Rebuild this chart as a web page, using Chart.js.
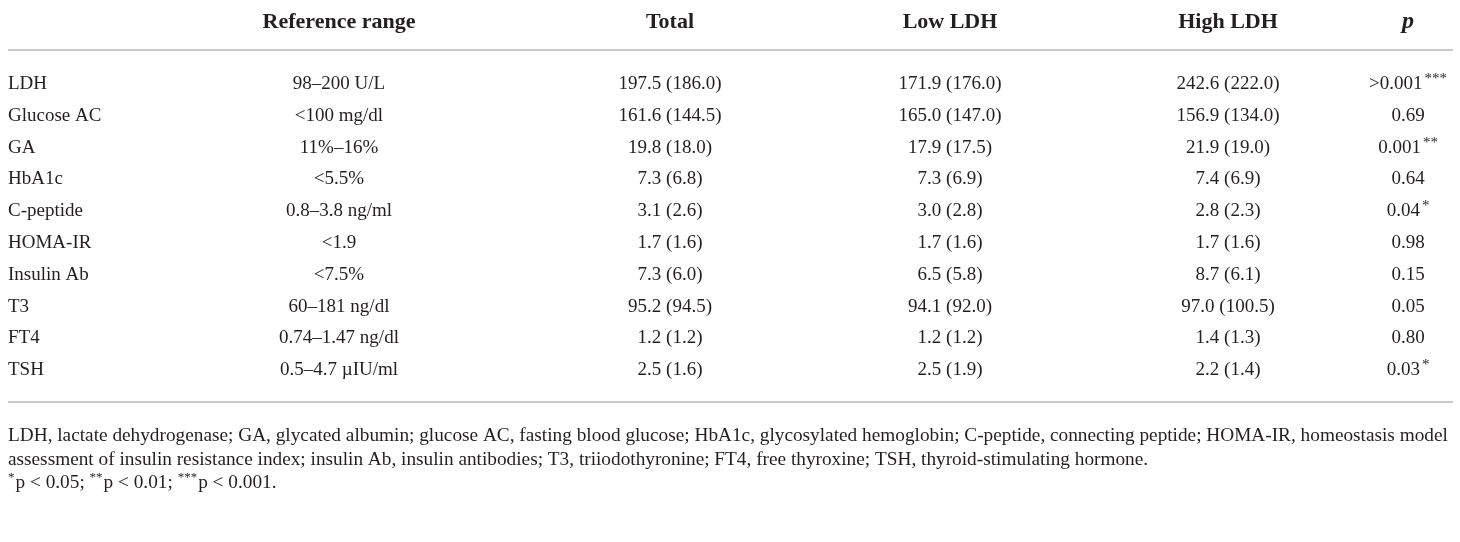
<!DOCTYPE html>
<html lang="en">
<head>
  <meta charset="UTF-8">
  <title>LDH groups table</title>
  <style>
    html, body {
      margin: 0;
      padding: 0;
      background: #ffffff;
    }
    #wrap {
      width: 1460px;
      height: 542px;
    }
  </style>
  <script src="https://cdn.jsdelivr.net/npm/chart.js"></script>
</head>
<body>

  <div id="wrap"><canvas id="tbl" width="1460" height="542"></canvas></div>

  <script>
    // table content
    const headers = ['', 'Reference range', 'Total', 'Low LDH', 'High LDH', 'p'];
    const parameters = ['LDH', 'Glucose AC', 'GA', 'HbA1c', 'C-peptide', 'HOMA-IR', 'Insulin Ab', 'T3', 'FT4', 'TSH'];
    const referenceRange = ['98–200 U/L', '<100 mg/dl', '11%–16%', '<5.5%', '0.8–3.8 ng/ml', '<1.9', '<7.5%', '60–181 ng/dl', '0.74–1.47 ng/dl', '0.5–4.7 µIU/ml'];
    const totalValues = ['197.5 (186.0)', '161.6 (144.5)', '19.8 (18.0)', '7.3 (6.8)', '3.1 (2.6)', '1.7 (1.6)', '7.3 (6.0)', '95.2 (94.5)', '1.2 (1.2)', '2.5 (1.6)'];
    const lowLdh = ['171.9 (176.0)', '165.0 (147.0)', '17.9 (17.5)', '7.3 (6.9)', '3.0 (2.8)', '1.7 (1.6)', '6.5 (5.8)', '94.1 (92.0)', '1.2 (1.2)', '2.5 (1.9)'];
    const highLdh = ['242.6 (222.0)', '156.9 (134.0)', '21.9 (19.0)', '7.4 (6.9)', '2.8 (2.3)', '1.7 (1.6)', '8.7 (6.1)', '97.0 (100.5)', '1.4 (1.3)', '2.2 (1.4)'];
    const pValues = ['>0.001', '0.69', '0.001', '0.64', '0.04', '0.98', '0.15', '0.05', '0.80', '0.03'];
    const pStars = ['***', '', '**', '', '*', '', '', '', '', '*'];
    const footnoteLines = [
      'LDH, lactate dehydrogenase; GA, glycated albumin; glucose AC, fasting blood glucose; HbA1c, glycosylated hemoglobin; C-peptide, connecting peptide; HOMA-IR, homeostasis model',
      'assessment of insulin resistance index; insulin Ab, insulin antibodies; T3, triiodothyronine; FT4, free thyroxine; TSH, thyroid-stimulating hormone.'
    ];
    const sigStars = ['*', '**', '***'];
    const sigLevels = ['0.05', '0.01', '0.001'];

    // layout (in scale units = pixels)
    const colX = [8, 339, 670, 950, 1228, 1408];
    const colAlign = ['left', 'center', 'center', 'center', 'center', 'center'];
    const headerY = 22;
    const topRuleY = 50;
    const firstRowY = 84;
    const rowStep = 31.8;
    const bottomRuleY = 402;
    const footY = [436, 460, 483];
    const ruleLeft = 8, ruleRight = 1453;

    const ink = '#231f20';
    const serif = '"Liberation Serif", "DejaVu Serif", serif';
    const bodyFont = '19px ' + serif;
    const headFont = 'bold 22px ' + serif;
    const footFont = '19.3px ' + serif;
    const supFont = '15px ' + serif;
    const footSupFont = '13px ' + serif;

    const columns = [parameters, referenceRange, totalValues, lowLdh, highLdh, pValues];

    // draw text with an optional superscript tail, aligned at x
    function drawCell(ctx, text, sup, x, y, align, font, sFont) {
      ctx.font = font;
      const w = ctx.measureText(text).width;
      ctx.font = sFont;
      const sw = sup ? ctx.measureText(sup).width + 2 : 0;
      let left = x;
      if (align === 'center') left = x - (w + sw) / 2;
      ctx.textAlign = 'left';
      ctx.textBaseline = 'middle';
      ctx.font = font;
      ctx.fillText(text, left, y);
      if (sup) {
        ctx.font = sFont;
        ctx.fillText(sup, left + w + 2, y - 5);
      }
    }

    const tablePlugin = {
      id: 'tablePlugin',
      afterDraw(chart) {
        const ctx = chart.ctx;
        const xs = chart.scales.x;
        const ys = chart.scales.y;
        ctx.save();
        ctx.fillStyle = ink;

        // rules
        ctx.strokeStyle = '#c9c9c9';
        ctx.lineWidth = 2;
        [topRuleY, bottomRuleY].forEach(v => {
          const py = ys.getPixelForValue(v);
          ctx.beginPath();
          ctx.moveTo(xs.getPixelForValue(ruleLeft), py);
          ctx.lineTo(xs.getPixelForValue(ruleRight), py);
          ctx.stroke();
        });

        // header row
        headers.forEach((h, c) => {
          if (!h) return;
          const font = c === headers.length - 1 ? 'italic bold 24px ' + serif : headFont;
          drawCell(ctx, h, '', xs.getPixelForValue(colX[c]), ys.getPixelForValue(headerY), colAlign[c], font, supFont);
        });

        // body rows
        parameters.forEach((_, r) => {
          const py = ys.getPixelForValue(firstRowY + r * rowStep);
          columns.forEach((col, c) => {
            const sup = c === columns.length - 1 ? pStars[r] : '';
            drawCell(ctx, col[r], sup, xs.getPixelForValue(colX[c]), py, colAlign[c], bodyFont, supFont);
          });
        });

        // footnotes
        footnoteLines.forEach((line, i) => {
          drawCell(ctx, line, '', xs.getPixelForValue(colX[0]), ys.getPixelForValue(footY[i]), 'left', footFont, footSupFont);
        });
        let fx = xs.getPixelForValue(colX[0]);
        const fy = ys.getPixelForValue(footY[2]);
        sigStars.forEach((s, i) => {
          ctx.font = footSupFont;
          ctx.textAlign = 'left';
          ctx.textBaseline = 'middle';
          ctx.fillText(s, fx, fy - 5);
          fx += ctx.measureText(s).width + 1;
          const t = 'p < ' + sigLevels[i] + (i < sigStars.length - 1 ? '; ' : '.');
          ctx.font = footFont;
          ctx.fillText(t, fx, fy);
          fx += ctx.measureText(t).width;
        });

        ctx.restore();
      }
    };

    new Chart(document.getElementById('tbl'), {
      type: 'scatter',
      data: { datasets: [] },
      options: {
        responsive: false,
        animation: false,
        layout: { padding: 0 },
        plugins: { legend: { display: false }, tooltip: { enabled: false } },
        scales: {
          x: { type: 'linear', min: 0, max: 1460, display: false },
          y: { type: 'linear', min: 0, max: 542, reverse: true, display: false }
        }
      },
      plugins: [tablePlugin]
    });
  </script>

</body>
</html>
